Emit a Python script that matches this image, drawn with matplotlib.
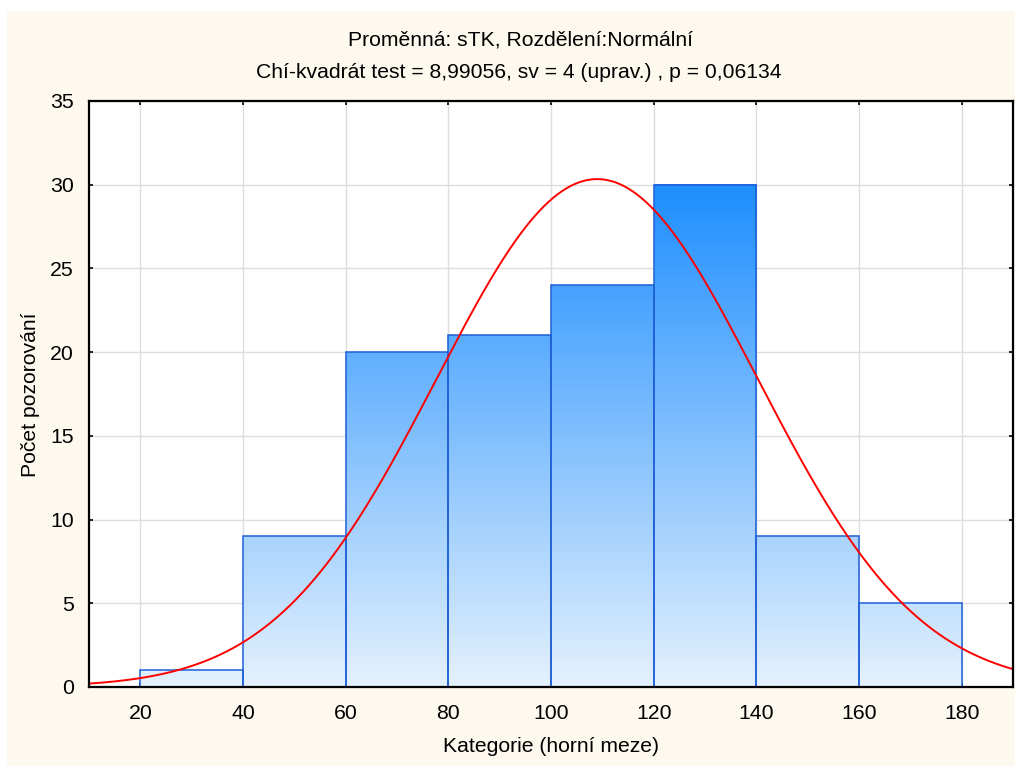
import numpy as np
import matplotlib
matplotlib.use("Agg")
import matplotlib.pyplot as plt
from matplotlib.colors import LinearSegmentedColormap
from matplotlib.patches import Rectangle

# ---- data ----
bin_edges = [20, 40, 60, 80, 100, 120, 140, 160, 180]
counts = [1, 9, 20, 21, 24, 30, 9, 5]
fit_mean = 109.0
fit_sd = 31.3
x_ticks = [20, 40, 60, 80, 100, 120, 140, 160, 180]
y_ticks = [0, 5, 10, 15, 20, 25, 30, 35]
title1 = "Proměnná: sTK, Rozdělení:Normální"
title2 = "Chí-kvadrát test = 8,99056, sv = 4 (uprav.) , p = 0,06134"
xlabel = "Kategorie (horní meze)"
ylabel = "Počet pozorování"

plt.rcParams['font.family'] = ['Liberation Sans', 'DejaVu Sans']

W, H = 1015, 766
fig = plt.figure(figsize=(W / 100, H / 100), dpi=100)
fig.patch.set_facecolor('white')
fig.add_artist(Rectangle((7 / W, 0), 1 - 7 / W, (H - 11) / H, transform=fig.transFigure,
                         facecolor='#fdf9ef', edgecolor='none', zorder=0))

ax = fig.add_axes([89 / W, (H - 687) / H, (1013 - 89) / W, (687 - 101) / H])
ax.set_facecolor('white')
ax.set_xlim(10, 190)
ax.set_ylim(0, 35)

cmap = LinearSegmentedColormap.from_list('grad', ['#e4f1fd', '#1e8eff'])
for i, c in enumerate(counts):
    x0, x1 = bin_edges[i], bin_edges[i + 1]
    g = np.linspace(0, c, 256).reshape(-1, 1)
    ax.imshow(g, cmap=cmap, vmin=0, vmax=30, origin='lower', aspect='auto',
              extent=[x0, x1, 0, c], zorder=2, interpolation='bilinear')
    ax.add_patch(Rectangle((x0, 0), x1 - x0, c, facecolor='none',
                           edgecolor='#1f5fd6', linewidth=1.1, zorder=3))

xs = np.linspace(10, 190, 600)
n_total = sum(counts)
bw = bin_edges[1] - bin_edges[0]
ys = n_total * bw / (fit_sd * np.sqrt(2 * np.pi)) * np.exp(-0.5 * ((xs - fit_mean) / fit_sd) ** 2)
ax.plot(xs, ys, color='#ff0000', linewidth=1.4, zorder=4)

ax.set_xlim(10, 190)
ax.set_ylim(0, 35)
ax.set_xticks(x_ticks)
ax.set_yticks(y_ticks)
ax.grid(True, color='#dddddd', linewidth=1)
ax.set_axisbelow(True)
ax.tick_params(direction='in', length=3, width=1.2, top=True, right=True,
               labelsize=15.3, colors='black')
ax.tick_params(axis='y', pad=11)
ax.tick_params(axis='x', pad=12)
for s in ax.spines.values():
    s.set_linewidth(1.6)
    s.set_color('black')
    s.set_zorder(5)

fs = 15.2
fig.text(520 / W, 1 - 40 / H, title1, ha='center', va='center', fontsize=fs)
fig.text(519 / W, 1 - 73 / H, title2, ha='center', va='center', fontsize=fs)
fig.text(551 / W, 1 - 747 / H, xlabel, ha='center', va='center', fontsize=fs)
fig.text(31 / W, 1 - 395 / H, ylabel, ha='center', va='center', fontsize=fs, rotation=90)

fig.savefig('out.png', dpi=100)
